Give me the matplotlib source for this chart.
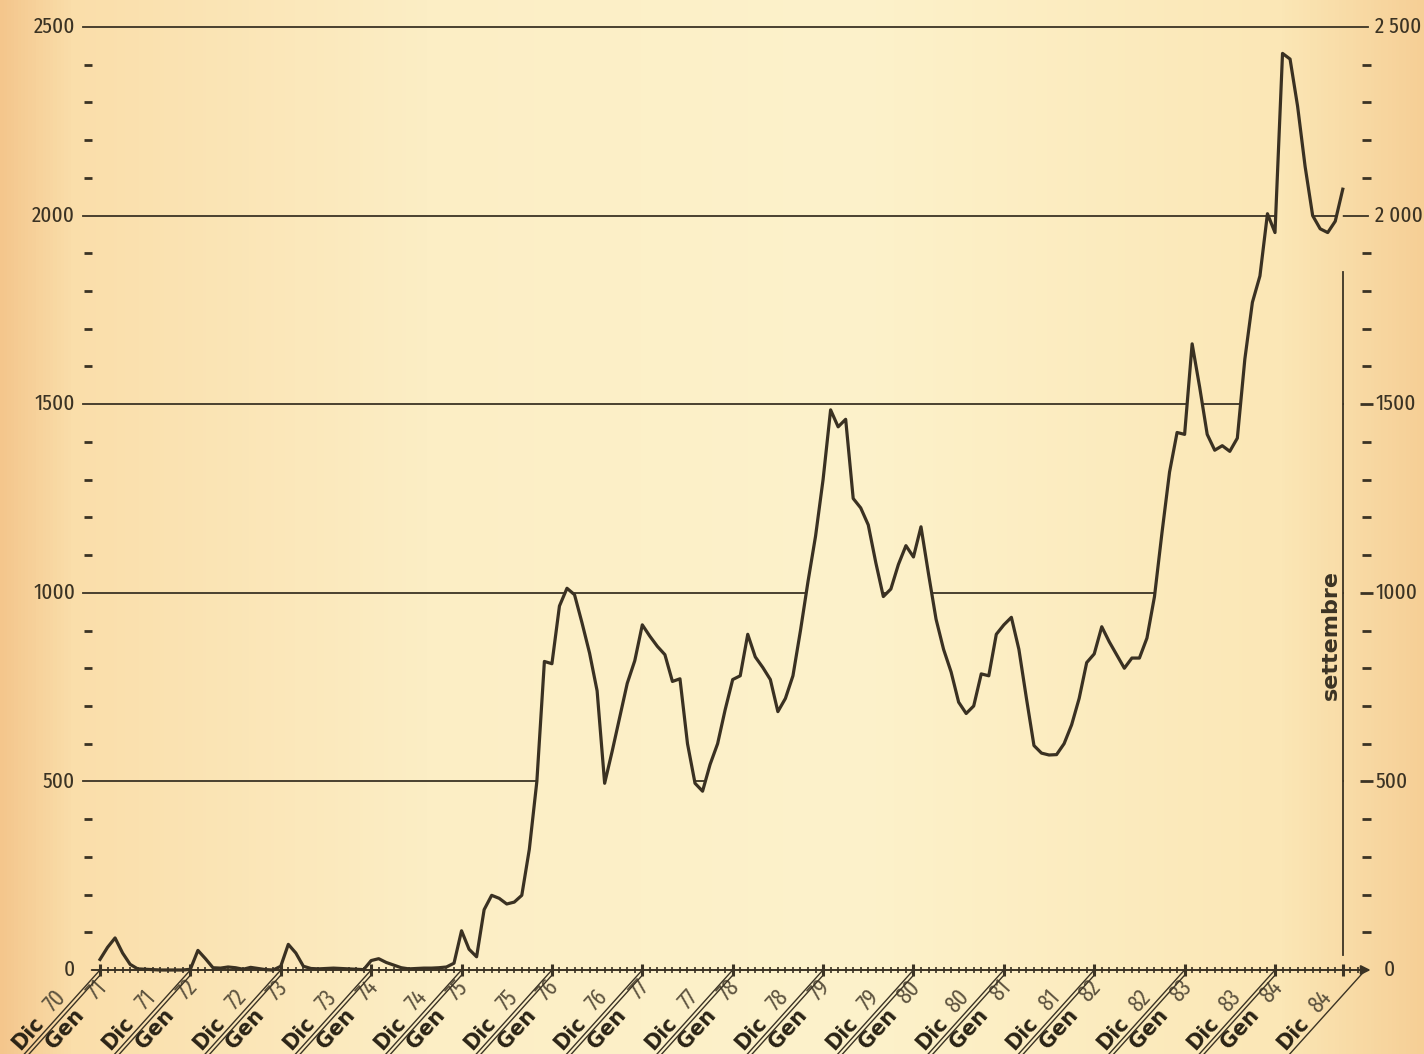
import numpy as np
import matplotlib.pyplot as plt
from matplotlib import font_manager as fm
from matplotlib.patches import Polygon

# monthly values, Jan 1971 .. Sep 1984 (one point per month)
values = [
    28, 60, 85, 45, 15, 3, 2, 1, 0, 0, 0, 0,
    2, 52, 30, 6, 5, 8, 6, 2, 7, 4, 1, 0,
    10, 68, 45, 10, 4, 3, 4, 5, 4, 3, 2, 1,
    25, 30, 20, 13, 6, 3, 4, 5, 5, 6, 8, 18,
    104, 55, 35, 160, 198, 190, 175, 180, 198, 320, 500, 818,
    812, 965, 1012, 995, 920, 840, 740, 495, 580, 670, 760, 820,
    915, 885, 858, 836, 765, 772, 600, 495, 474, 545, 600, 690,
    770, 780, 890, 830, 802, 770, 685, 720, 780, 900, 1030, 1150,
    1300, 1485, 1440, 1460, 1250, 1225, 1180, 1080, 990, 1010, 1075, 1125,
    1095, 1175, 1050, 930, 850, 790, 710, 680, 700, 785, 780, 890,
    915, 935, 850, 720, 595, 575, 570, 571, 600, 650, 720, 815,
    838, 910, 870, 835, 800, 827, 827, 880, 990, 1160, 1320, 1425,
    1420, 1660, 1545, 1420, 1378, 1390, 1375, 1410, 1620, 1770, 1840, 2005,
    1955, 2430, 2415, 2290, 2130, 2000, 1965, 1955, 1985, 2070,
]
months = np.arange(len(values))

dic_years = ['70', '71', '72', '73', '74', '75', '76', '77', '78', '79', '80', '81', '82', '83']
gen_years = ['71', '72', '73', '74', '75', '76', '77', '78', '79', '80', '81', '82', '83', '84']
year_ticks = np.arange(0, 12 * len(dic_years), 12)
last_label = '84'
last_tick = 168
sept_tick = 165

left_levels = [0, 500, 1000, 1500, 2000, 2500]
left_labels = ['0', '500', '1000', '1500', '2000', '2500']
right_labels = ['0', '500', '1000', '1500', '2 000', '2 500']

INK = '#3b3324'


def pick_narrow():
    # narrowest regular face among the installed fonts
    best, best_rank = None, 99
    for f in fm.fontManager.ttflist:
        if f.style != 'normal' or f.weight not in (400, 'normal', 'regular'):
            continue
        name = f.name.lower().replace(' ', '').replace('-', '')
        st = str(f.stretch)
        if 'semicondensed' in name or st == 'semi-condensed':
            rank = 3
        elif 'extracondensed' in name or st == 'extra-condensed':
            rank = 0
        elif 'condensed' in name or st == 'condensed':
            rank = 1
        elif 'narrow' in name:
            rank = 2
        else:
            continue
        if rank < best_rank:
            best, best_rank = f.fname, rank
    return best, best_rank


narrow_file, narrow_rank = pick_narrow()
if narrow_file is None:
    num_font = fm.FontProperties(family='Liberation Sans', size=14)
    year_font = fm.FontProperties(family='Liberation Sans', size=14)
else:
    size = 16.5 if narrow_rank == 0 else 15
    num_font = fm.FontProperties(fname=narrow_file, size=size)
    year_font = fm.FontProperties(fname=narrow_file, size=17)

# pixel scale of the original page
PX_T = 7.532   # px per month
PX_V = 0.3772  # px per unit

fig = plt.figure(figsize=(14.24, 10.54), dpi=100)
ax = fig.add_axes([0, 0, 1, 1])
ax.set_xlim(-100 / PX_T, 1324 / PX_T)
ax.set_ylim(-84 / PX_V, 970 / PX_V)
ax.axis('off')

# paper background
stops = [0.0, 0.05, 0.3, 0.6, 0.9, 1.0]
cols = np.array([[244, 198, 140], [250, 222, 170], [252, 238, 197],
                 [253, 242, 203], [251, 231, 182], [246, 207, 150]]) / 255
xs = np.linspace(0, 1, 400)
grad = np.stack([np.interp(xs, stops, cols[:, c]) for c in range(3)], axis=-1)
grad = np.repeat(grad[None, :, :], 2, axis=0)
ax.imshow(grad, extent=(*ax.get_xlim(), *ax.get_ylim()), aspect='auto', zorder=0)

# region above the curve, used to hide the gridlines behind it
lo, hi = -1000, 4000
verts = [(-50, lo), (months[0], lo)] + list(zip(months, values)) + \
        [(months[-1], lo), (250, lo), (250, hi), (-50, hi)]
clip = Polygon(verts, closed=True, transform=ax.transData, facecolor='none', edgecolor='none')
ax.add_patch(clip)

for lev in [500, 1000, 1500]:
    ln, = ax.plot([-2.2, months[-1]], [lev, lev], color=INK, lw=1.3, zorder=2)
    ln.set_clip_path(clip)
for lev in [2000, 2500]:
    ln, = ax.plot([-2.2, 168.3], [lev, lev], color=INK, lw=1.3, zorder=2)
    ln.set_clip_path(clip)

# small dashes on both sides
for v in range(100, 2500, 100):
    if v % 500:
        ax.plot([-2.1, -1.1], [v, v], color=INK, lw=2.0, solid_capstyle='butt', zorder=2)
        ax.plot([167.6, 168.8], [v, v], color=INK, lw=2.0, solid_capstyle='butt', zorder=2)
for v in [500, 1000, 1500]:
    ax.plot([167.3, 169.0], [v, v], color=INK, lw=2.0, solid_capstyle='butt', zorder=2)

for v, lab in zip(left_levels, left_labels):
    ax.text(-3.3, v, lab, ha='right', va='center', fontproperties=num_font, color=INK)
for v, lab in zip(left_levels, right_labels):
    ax.text(169.3 if v else 170.4, v, lab, ha='left', va='center',
            fontproperties=num_font, color=INK)

# the series
ax.plot(months, values, color='#3a3122', lw=2.3, solid_joinstyle='round', zorder=4)

# settembre marker
ax.plot([sept_tick, sept_tick], [40, 1850], color=INK, lw=1.3, zorder=3)
ax.text(163.4, 888, 'settembre', rotation=90, ha='center', va='center',
        fontsize=16, fontweight='bold', color=INK, zorder=5)

# x axis with arrow and month ticks
ax.annotate('', xy=(168.7, 0), xytext=(-1.1, 0),
            arrowprops=dict(arrowstyle='-|>', color=INK, lw=1.4,
                            mutation_scale=14, shrinkA=0, shrinkB=0), zorder=5)
ax.plot(np.arange(0, 168), np.zeros(168), ls='none', marker='|', ms=4,
        mew=1.2, color=INK, zorder=5)
ax.plot(list(year_ticks) + [sept_tick], np.zeros(len(year_ticks) + 1), ls='none',
        marker='|', ms=9, mew=2.2, color=INK, zorder=5)

# diagonal date labels
ang = np.deg2rad(48)
u = np.array([np.cos(ang), np.sin(ang)])
n = np.array([-np.sin(ang), np.cos(ang)])


def px(t, s, p):
    # point at s px along the label direction and p px across it, from tick t
    d = s * u + p * n
    return t + d[0] / PX_T, d[1] / PX_V


def label(t, word, num, s_word, s_num, p):
    wx, wy = px(t, s_word, p)
    ax.text(wx, wy, word, rotation=48, rotation_mode='anchor', ha='right',
            va='baseline', fontsize=15, fontweight='bold', color='#2a2315',
            clip_on=False, zorder=5)
    nx, ny = px(t, s_num, p + 1)
    ax.text(nx, ny, num, rotation=48, rotation_mode='anchor', ha='right',
            va='baseline', fontproperties=year_font, color='#5e5440',
            clip_on=False, zorder=5)


def diag(t, s0, s1, p):
    x0, y0 = px(t, s0, p)
    x1, y1 = px(t, s1, p)
    ax.plot([x0, x1], [y0, y1], color=INK, lw=1.0, clip_on=False, zorder=5)


for t, d, g in zip(year_ticks, dic_years, gen_years):
    label(t, 'Dic', d, -77, -43, 5)
    label(t, 'Gen', g, -44, -8, -19)
    diag(t, 0, -118, 0)
    diag(t, -4, -112, -3.5)

label(last_tick, 'Dic', last_label, -77, -43, 5)
diag(last_tick, 0, -118, 0)

fig.savefig('out.png', dpi=100)
